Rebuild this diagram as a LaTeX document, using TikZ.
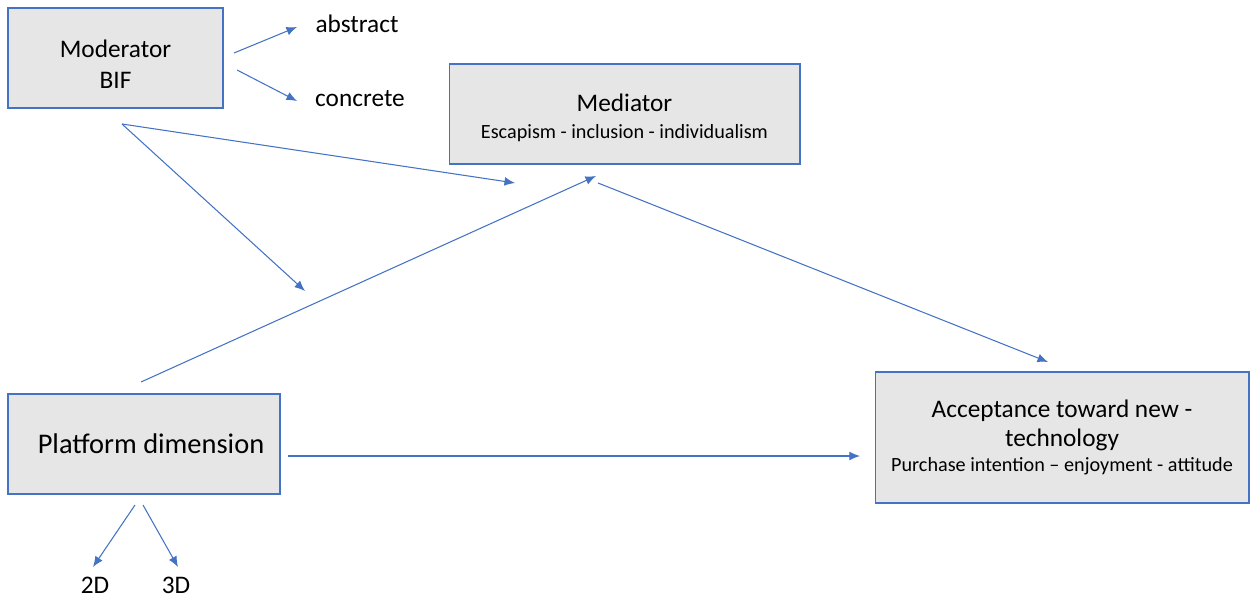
\documentclass[tikz,border=0pt]{standalone}
\usepackage{fontspec}
\setmainfont{Carlito}
\usetikzlibrary{arrows.meta}
\definecolor{boxblue}{HTML}{4472C4}
\definecolor{boxgray}{HTML}{E7E6E6}

\begin{document}
\begin{tikzpicture}[x=0.02cm,y=-0.02cm,
    box/.style={draw=boxblue,fill=boxgray,line width=0.6pt,align=center,inner sep=0pt},
    arr/.style={draw=boxblue,line width=0.6pt,-{Latex[length=6pt,width=5pt]}},
    lbl/.style={font=\fontsize{14.4pt}{17pt}\selectfont,inner sep=0pt}]
    \useasboundingbox (0,0) rectangle (1250,598);

    \node[box,minimum width=4.3cm,minimum height=2cm,font=\fontsize{14.4pt}{18pt}\selectfont]
        (mod) at (115.5,58) {\rule{0pt}{17pt}Moderator\\BIF};
    \node[box,minimum width=7.02cm,minimum height=2cm]
        (med) at (624.5,114) {{\fontsize{14.4pt}{17pt}\selectfont\rule{0pt}{14.5pt}Mediator}\\[3pt]
        {\fontsize{11.5pt}{14pt}\selectfont Escapism - inclusion - individualism}};
    \node[box,minimum width=5.44cm,minimum height=2cm,font=\fontsize{16.2pt}{19pt}\selectfont]
        (plat) at (144,444) {\hspace{8pt}Platform dimension};
    \node[box,minimum width=7.48cm,minimum height=2.62cm]
        (acc) at (1062,437.5) {{\fontsize{14.4pt}{17pt}\selectfont Acceptance toward new -}\\[3.4pt]
        {\fontsize{14.4pt}{17pt}\selectfont technology}\\[2.3pt]
        {\fontsize{11.5pt}{14pt}\selectfont Purchase intention -- enjoyment - attitude}};

    \node[lbl] (abs) at (357,24) {abstract};
    \node[lbl] (con) at (360,99) {concrete};
    \node[lbl] (twod) at (95,585) {2D};
    \node[lbl] (threed) at (176,585) {3D};

    % free ends of the arrows
    \coordinate (m1) at (234,53);
    \coordinate (m2) at (237,70);
    \coordinate (m3) at (122,124);
    \coordinate (a1) at (297,27);
    \coordinate (a2) at (297,101);
    \coordinate (a3) at (515,183);
    \coordinate (a4) at (305,291);
    \coordinate (p1) at (141,382);
    \coordinate (p2) at (288,456);
    \coordinate (p3) at (135,505);
    \coordinate (p4) at (143,505);
    \coordinate (e1) at (596,176);
    \coordinate (e2) at (598,183);
    \coordinate (e3) at (1048,362);
    \coordinate (e4) at (860,456);
    \coordinate (d2) at (93,567);
    \coordinate (d3) at (178,567);

    \draw[arr] (m1) -- (a1);
    \draw[arr] (m2) -- (a2);
    \draw[arr] (m3) -- (a3);
    \draw[arr] (m3) -- (a4);
    \draw[arr] (p1) -- (e1);
    \draw[arr] (e2) -- (e3);
    \draw[arr] (p2) -- (e4);
    \draw[arr] (p3) -- (d2);
    \draw[arr] (p4) -- (d3);
\end{tikzpicture}
\end{document}
